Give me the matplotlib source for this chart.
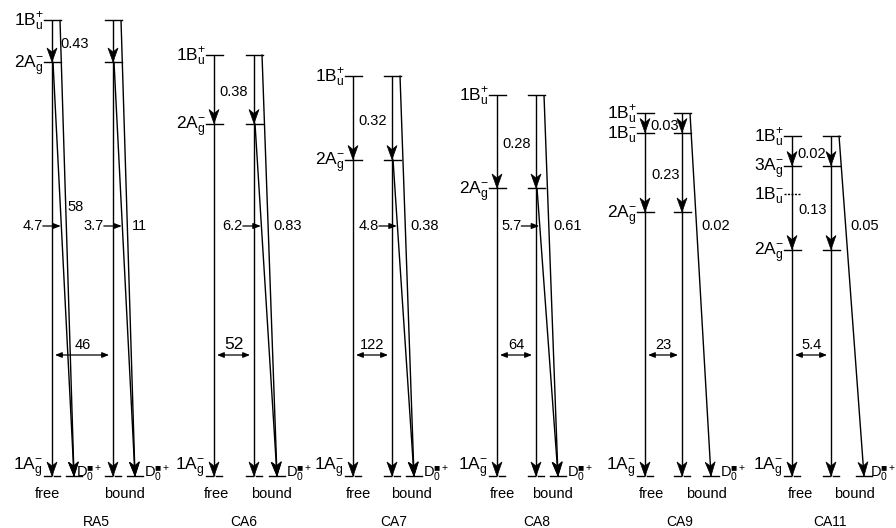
import math
import matplotlib
matplotlib.use('Agg')
import matplotlib.pyplot as plt
from matplotlib.patches import FancyArrowPatch, Polygon

plt.rcParams['font.family'] = ['Liberation Sans', 'DejaVu Sans']
plt.rcParams['mathtext.fontset'] = 'custom'
plt.rcParams['mathtext.rm'] = 'Liberation Sans'
plt.rcParams['mathtext.it'] = 'Liberation Sans:italic'
plt.rcParams['mathtext.bf'] = 'Liberation Sans:bold'
plt.rcParams['mathtext.fallback'] = 'stix'

# ---------------- data ----------------
molecules = ['RA5', 'CA6', 'CA7', 'CA8', 'CA9', 'CA11']
# excited-state energies above 1Ag- (eV)
E_1Bu_plus = [3.04, 2.81, 2.67, 2.54, 2.42, 2.27]
E_3Ag = [None, None, None, None, None, 2.07]
E_1Bu_minus = [None, None, None, None, 2.29, 1.88]
E_2Ag = [2.76, 2.35, 2.11, 1.92, 1.76, 1.51]
# rates
rate_top = ['0.43', '0.38', '0.32', '0.28', '0.03', '0.02']   # 1Bu+ -> next lower state
rate_mid = [None, None, None, None, '0.23', '0.13']           # intermediate -> 2Ag-
rate_S1_ET_bound = ['3.7', '6.2', '4.8', '5.7', None, None]   # 2Ag- -> D0.+
rate_S2_ET_bound = ['11', '0.83', '0.38', '0.61', '0.02', '0.05']  # 1Bu+ -> D0.+
rate_S1_ET_free = ['4.7', None, None, None, None, None]
rate_S2_ET_free = ['58', None, None, None, None, None]
ratio = ['46', '52', '122', '64', '23', '5.4']

# ---------------- layout (pixels) ----------------
W, H = 896, 528
BASE, SCALE = 476.0, 150.0          # pixel row of 1Ag-, pixels per eV
free_x = [52, 214, 353, 497, 645, 792]
bound_x = [113, 254, 392, 536, 682, 831]
d0_x = [135, 277, 414, 558, 711, 864]
d0_lbl_gap = [9, 9, 9, 9, 9, 6]
free_d0_x = [74, None, None, None, None, None]
free_lbl_x = [47, 216, 358, 502, 651, 800]
bound_lbl_x = [124, 271, 411, 552, 706, 854]
name_x = [96, 244, 394, 537, 680, 830]
ratio_fs = [10.5, 12.5, 10.5, 10.5, 10.5, 10.5]


def ey(px):
    return (BASE - px) / SCALE


fig = plt.figure(figsize=(W / 100, H / 100), dpi=100)
ax = fig.add_axes([0, 0, 1, 1])
ax.set_xlim(0, W)
ax.set_ylim(ey(H), ey(0))
ax.axis('off')

LW = 1.0
NUM_FS = 10.5
LVL_FS = 12.5
D0_LABEL = r'D$_0^{\blacksquare+}$'


def head(x0, e0, x1, e1, L=14.0, Wd=5.0, notch=4.0):
    dx = x1 - x0
    dy = (e1 - e0) * SCALE
    n = math.hypot(dx, dy)
    ux, uy = dx / n, dy / n
    px, py = -uy, ux
    tx, ty = x1, e1 * SCALE
    pts = [(tx, ty),
           (tx - L * ux + Wd * px, ty - L * uy + Wd * py),
           (tx - (L - notch) * ux, ty - (L - notch) * uy),
           (tx - L * ux - Wd * px, ty - L * uy - Wd * py)]
    pts = [(a, b / SCALE) for a, b in pts]
    ax.add_patch(Polygon(pts, closed=True, fc='k', ec='k', lw=0.5, zorder=3))


def arrow(x0, e0, x1, e1):
    ax.plot([x0, x1], [e0, e1], color='k', lw=LW, solid_capstyle='butt')
    head(x0, e0, x1, e1)


def tick(x, e, style='-'):
    ax.plot([x - 8, x + 9], [e, e], color='k', lw=LW, ls=style)


def bottom_tick(x):
    ax.plot([x - 8, x - 1.5], [0, 0], color='k', lw=LW)
    ax.plot([x + 1.5, x + 8], [0, 0], color='k', lw=LW)


def d0_tick(x):
    ax.plot([x - 8, x + 8], [0, 0], color='k', lw=LW)


def line_x_at(x0, e0, x1, e1, e):
    return x0 + (x1 - x0) * (e - e0) / (e1 - e0)


def label_arrow(txt, x0, e0, x1, e1, ypx):
    e = ey(ypx)
    tip = line_x_at(x0, e0, x1, e1, e) - 0.5
    ax.add_patch(FancyArrowPatch((tip - 18, e), (tip, e),
                                 arrowstyle='-|>,head_length=0.45,head_width=0.17',
                                 mutation_scale=10, lw=0.9, color='k',
                                 shrinkA=0, shrinkB=0))
    ax.text(tip - 18, e, txt, ha='right', va='center', fontsize=NUM_FS)


for i, name in enumerate(molecules):
    fx, bx, dx = free_x[i], bound_x[i], d0_x[i]
    levels = [('1B', 'u', '+', E_1Bu_plus[i], '-')]
    if E_3Ag[i] is not None:
        levels.append(('3A', 'g', '-', E_3Ag[i], '-'))
    if E_1Bu_minus[i] is not None:
        levels.append(('1B', 'u', '-', E_1Bu_minus[i],
                       (0, (1.5, 1.0)) if E_3Ag[i] is not None else '-'))
    levels.append(('2A', 'g', '-', E_2Ag[i], '-'))
    chain = [lv for lv in levels if not (lv[0] == '1B' and lv[2] == '-' and E_3Ag[i] is not None)]

    for lab, sub, sup, e, st in levels:
        tick(fx, e, st)
        if not (lab == '1B' and sup == '-' and E_3Ag[i] is not None):
            tick(bx, e)
        ax.text(fx - 8, e - 6 / SCALE, rf'{lab}$_\mathrm{{{sub}}}^{{{sup}}}$',
                ha='right', va='baseline', fontsize=LVL_FS)

    for col in (fx, bx):
        for a, b in zip(chain[:-1], chain[1:]):
            arrow(col, a[3], col, b[3])
        arrow(col, chain[-1][3], col, 0.0)
        bottom_tick(col)

    top_e, next_e = chain[0][3], chain[1][3]
    mid_px = (BASE - (top_e + next_e) / 2 * SCALE) + 3
    ax.text(fx + (8 if i == 0 else 5), ey(mid_px), rate_top[i], ha='left', va='center', fontsize=NUM_FS)
    if rate_mid[i] is not None:
        a, b = chain[1][3], chain[2][3]
        mid_px = (BASE - (a + b) / 2 * SCALE) + 3
        ax.text(fx + 6, ey(mid_px), rate_mid[i], ha='left', va='center', fontsize=NUM_FS)

    sx = bx + 8
    arrow(sx, E_1Bu_plus[i], dx, 0.0)
    if rate_S1_ET_bound[i] is not None:
        arrow(bx + 1, E_2Ag[i], dx, 0.0)
        label_arrow(rate_S1_ET_bound[i], bx + 1, E_2Ag[i], dx, 0.0, 226)
    xo = line_x_at(sx, E_1Bu_plus[i], dx, 0.0, ey(226))
    ax.text(xo + 5, ey(226), rate_S2_ET_bound[i], ha='left', va='center', fontsize=NUM_FS)
    d0_tick(dx)
    ax.text(dx + d0_lbl_gap[i], ey(477), D0_LABEL, ha='left', va='baseline', fontsize=10.5)

    if free_d0_x[i] is not None:
        fdx = free_d0_x[i]
        sx2 = fx + 8
        arrow(sx2, E_1Bu_plus[i], fdx, 0.0)
        arrow(fx + 1, E_2Ag[i], fdx, 0.0)
        label_arrow(rate_S1_ET_free[i], fx + 1, E_2Ag[i], fdx, 0.0, 226)
        xo = line_x_at(sx2, E_1Bu_plus[i], fdx, 0.0, ey(207))
        ax.text(xo + 2, ey(207), rate_S2_ET_free[i], ha='left', va='center', fontsize=NUM_FS)
        d0_tick(fdx)
        ax.text(fdx + 2, ey(477), D0_LABEL, ha='left', va='baseline', fontsize=10.5)

    ax.text(fx - 9, ey(471), r'1A$_\mathrm{g}^{-}$', ha='right', va='baseline', fontsize=LVL_FS)

    ax.add_patch(FancyArrowPatch((fx + 3, ey(355)), (bx - 4, ey(355)),
                                 arrowstyle='<|-|>,head_length=0.4,head_width=0.16',
                                 mutation_scale=10, lw=0.9, color='k',
                                 shrinkA=0, shrinkB=0))
    ax.text((fx + bx) / 2, ey(352), ratio[i], ha='center', va='bottom', fontsize=ratio_fs[i])

    ax.text(free_lbl_x[i], ey(498), 'free', ha='center', va='baseline', fontsize=10.5)
    ax.text(bound_lbl_x[i], ey(498), 'bound', ha='center', va='baseline', fontsize=10.5)
    ax.text(name_x[i], ey(526), name, ha='center', va='baseline', fontsize=10)

fig.savefig('out.png', dpi=100)
